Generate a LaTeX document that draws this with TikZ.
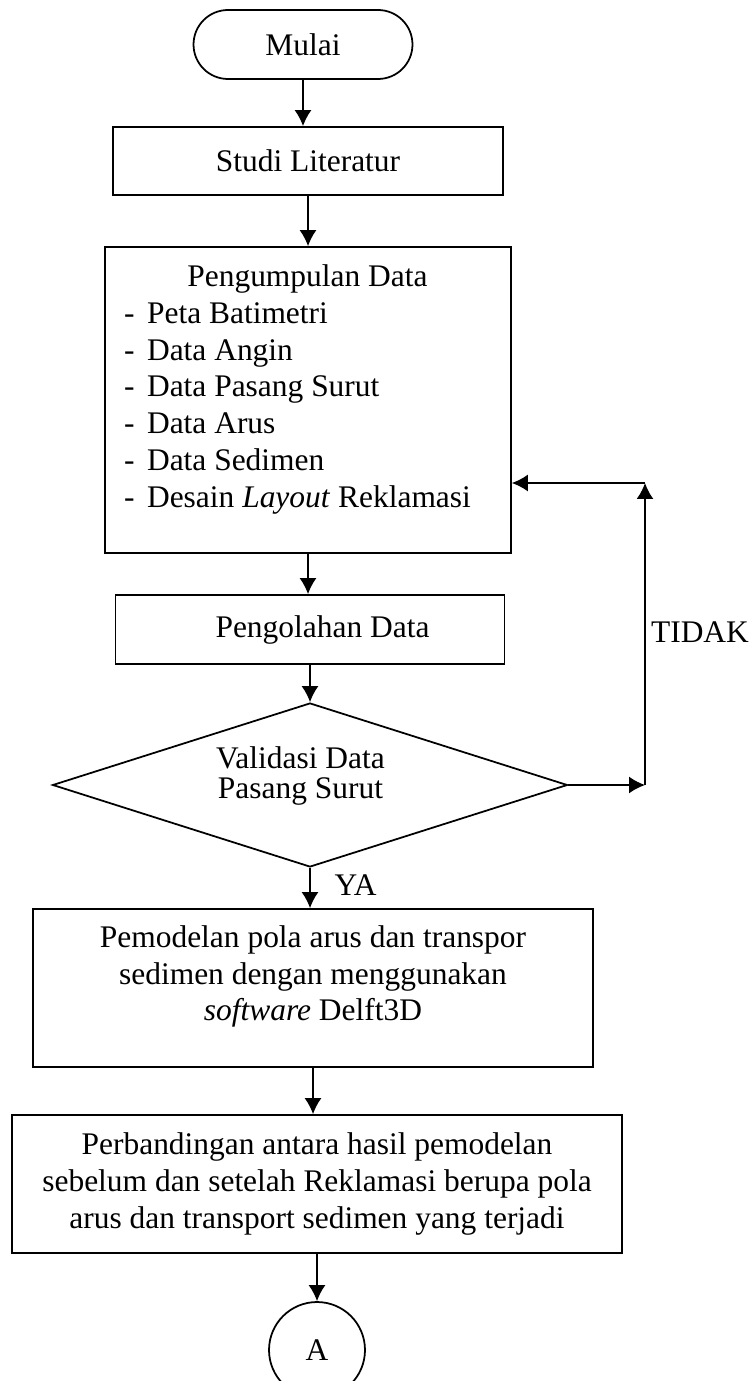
\documentclass[tikz,border=0pt]{standalone}
\usepackage{fontspec}
\setmainfont{Liberation Serif}
\usepackage{tikz}
\tikzset{every node/.style={draw,line width=1pt,align=center,inner sep=0pt}}
\tikzset{every label/.style={draw=none}}
\tikzset{panah/.style={->,line width=1pt}}
\tikzset{kotak/.style={rectangle}}
\tikzset{mulaibox/.style={rounded rectangle}}
\tikzset{putus/.style={diamond}}
\tikzset{tulisan/.style={draw=none}}
\usetikzlibrary{shapes,arrows.meta}

\begin{document}
\begin{tikzpicture}[x=0.02cm,y=-0.02cm,>={Latex[length=3.2mm,width=3.4mm]},font=\fontsize{17.9}{20.9}\selectfont]
\useasboundingbox (0,0) rectangle (753,1381);
\node[mulaibox,minimum width=4.38cm,minimum height=1.38cm](mulai) at (303,44.5) {Mulai};
\node[kotak,minimum width=7.8cm,minimum height=1.36cm](studi) at (308,161) {Studi Literatur};
\node[kotak,minimum width=8.12cm,minimum height=6.12cm,label={[anchor=north west,xshift=0.38cm,yshift=-0.28cm]north west:{\begin{tabular}{@{}l@{}}\multicolumn{1}{c}{\hspace{0.4cm}Pengumpulan Data}\\-\hspace{0.4em}Peta Batimetri\\-\hspace{0.4em}Data Angin\\-\hspace{0.4em}Data Pasang Surut\\-\hspace{0.4em}Data Arus\\-\hspace{0.4em}Data Sedimen\\-\hspace{0.4em}Desain \textit{Layout} Reklamasi\end{tabular}}}](kumpul) at (308,400) {};
\node[kotak,minimum width=7.78cm,minimum height=1.38cm,label={[xshift=0.25cm]center:Pengolahan Data}](olah) at (310,629.5) {};
\node[putus,minimum width=10.3cm,minimum height=3.28cm,label={[xshift=-0.19cm,yshift=0.18cm,font=\fontsize{17.9}{17}\selectfont]center:{Validasi Data\\Pasang Surut}}](valid) at (310,785) {};
\node[kotak,minimum width=11.2cm,minimum height=3.16cm,label={[anchor=north,yshift=-0.33cm]north:{Pemodelan pola arus dan transpor\\sedimen dengan menggunakan\\\textit{software} Delft3D}}](model) at (313,988) {};
\node[kotak,minimum width=12.2cm,minimum height=2.76cm](banding) at (317,1184) {Perbandingan antara hasil pemodelan\\sebelum dan setelah Reklamasi berupa pola\\arus dan transport sedimen yang terjadi};
\node[circle,minimum size=1.92cm](A) at (317,1350) {A};
\node[tulisan](ya) at (355.5,885) {YA};
\node[tulisan](tidak) at (700,632) {TIDAK};
\coordinate (belok1) at (645,785);
\coordinate (belok2) at (645,483);

\foreach \s/\t in {mulai/studi,studi/kumpul,kumpul/olah,valid/model,model/banding,banding/A}
  \draw[panah] (\s) -- (\s |- \t.north);

\draw[panah] (olah) -- (valid);
\draw[panah] (valid) -- (belok1);
\draw[panah] (belok1) -- (belok2);
\draw[panah] (belok2) -- (kumpul.east |- belok2);
\end{tikzpicture}
\end{document}
